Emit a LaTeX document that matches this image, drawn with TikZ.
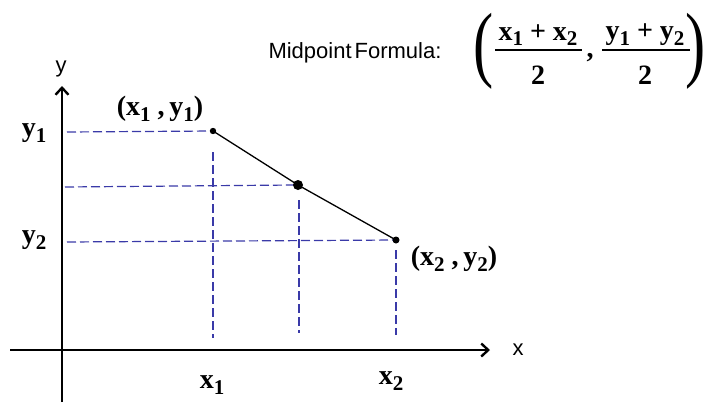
\documentclass[tikz,border=0pt]{standalone}
\usepackage{fontspec}
\setmainfont{Liberation Serif}
\setsansfont{Liberation Sans}
\usetikzlibrary{arrows.meta}
\definecolor{dashblue}{HTML}{3A3AA8}
\newcommand{\vsub}[2]{#1\raisebox{-0.45ex}{\scalebox{0.75}{#2}}}

\begin{document}
\begin{tikzpicture}[x=1pt,y=-1pt,
    axis/.style={line width=2.4pt, -{Straight Barb[length=7pt,width=13pt,line width=2.4pt]}},
    guide/.style={dashblue, line width=1.2pt, dash pattern=on 9pt off 4pt},
    lbl/.style={font=\fontsize{28}{30}\selectfont\bfseries, inner sep=0pt},
    axlbl/.style={font=\sffamily\fontsize{22}{24}\selectfont, inner sep=0pt},
    frac/.style={font=\fontsize{28}{30}\selectfont\bfseries, inner sep=0pt},
    paren/.style={font=\fontsize{84}{86}\selectfont, inner sep=0pt}]
        \useasboundingbox (0,0) rectangle (709,402);

        % Axes
        \coordinate (xs) at (10,350);
        \coordinate (xe) at (490,350);
        \coordinate (ys) at (62,402);
        \coordinate (ye) at (62,86);
        \draw[axis] (xs) -- (xe);
        \draw[axis] (ys) -- (ye);
        \node[axlbl] (xl) at (518,350) {x};
        \node[axlbl] (yl) at (61,69) {y};

        % Points
        \coordinate (P1) at (213,131);
        \coordinate (M) at (298,185);
        \coordinate (P2) at (396,240);

        % Guide lines
        \coordinate (h1) at (67,132);
        \coordinate (hm) at (65,187);
        \coordinate (h2) at (67,242);
        \coordinate (t1) at (213,152);
        \coordinate (tm) at (299,200);
        \coordinate (t2) at (396,250);
        \coordinate (v1) at (213,338);
        \coordinate (vm) at (299,333);
        \coordinate (v2) at (396,335);
        \draw[guide] (h1) -- (P1);
        \draw[guide] (hm) -- ([xshift=-4pt]M);
        \draw[guide] (h2) -- (P2);
        \draw[guide] (t1) -- (v1);
        \draw[guide] (tm) -- (vm);
        \draw[guide] (t2) -- (v2);

        % Segment
        \draw[line width=1.3pt] (P1) -- (M) -- (P2);
        \fill (P1) circle (3.2pt);
        \fill (M) circle (5pt);
        \fill (P2) circle (3.5pt);

        % Labels
        \node[lbl] (y1) at (34,133) {\vsub{y}{1}};
        \node[lbl] (y2) at (34,240) {\vsub{y}{2}};
        \node[lbl] (x1) at (212,385) {\vsub{x}{1}};
        \node[lbl] (x2) at (391,381) {\vsub{x}{2}};
        \node[lbl] (p1) at (160,109) {(\vsub{x}{1} ,\,\vsub{y}{1})};
        \node[lbl] (p2) at (454,259) {(\vsub{x}{2} ,\,\vsub{y}{2})};

        % Formula
        \node[font=\sffamily\fontsize{22}{24}\selectfont, inner sep=0pt] (mf) at (355,53) {Midpoint\hspace{3pt}Formula:};
        \node[paren] (lp) at (484,51) {\scalebox{0.72}[1]{(}};
        \node[paren] (rp) at (696,51) {\scalebox{0.72}[1]{)}};
        \node[frac] (n1) at (538,35) {\vsub{x}{1} + \vsub{x}{2}};
        \node[frac] (d1) at (538,75) {2};
        \node[frac] (cm) at (590,58) {,};
        \node[frac] (n2) at (645,35) {\vsub{y}{1} + \vsub{y}{2}};
        \node[frac] (d2) at (645,75) {2};
        \coordinate (f1a) at (495,50);
        \coordinate (f1b) at (582,50);
        \coordinate (f2a) at (602,50);
        \coordinate (f2b) at (690,50);
        \draw[line width=2pt] (f1a) -- (f1b);
        \draw[line width=2pt] (f2a) -- (f2b);
\end{tikzpicture}
\end{document}
